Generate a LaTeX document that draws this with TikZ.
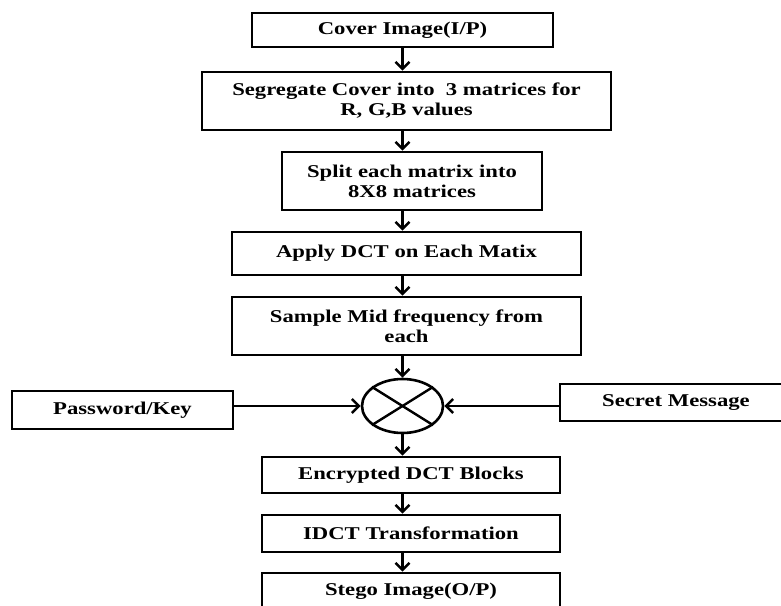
\documentclass[tikz,border=0pt]{standalone}
\usepackage{fontspec}
\setmainfont{Liberation Serif}[FakeStretch=1.26]
\usepackage{tikz}
\usetikzlibrary{shapes.geometric,arrows.meta}

\tikzset{
	stage/.style={shape=rectangle,draw=black,line width=2.8pt,inner sep=0pt,align=center,
		font=\bfseries\fontsize{18}{20}\selectfont},
	flow/.style={-{Straight Barb[length=7pt,width=14pt]},line width=2.5pt},
}

\begin{document}
\begin{tikzpicture}[x=1pt,y=-1pt]
	\clip (0,0) rectangle (781,605);
	
	\node[stage,minimum width=301pt,minimum height=34pt] (cover) at (402.5, 30)  {Cover Image(I/P)};
	\node[stage,minimum width=409pt,minimum height=58pt] (segr)  at (406.5, 101) {Segregate Cover into\ \ 3 matrices for\\R, G,B values};
	\node[stage,minimum width=260pt,minimum height=58pt] (split) at (412, 181)   {Split each matrix into\\8X8 matrices};
	\node[stage,minimum width=349pt,minimum height=43pt] (apply) at (406.5, 253.5) {Apply DCT on Each Matix};
	\node[stage,minimum width=349pt,minimum height=58pt] (sample) at (406.5, 326) {Sample Mid frequency from\\each};
	\node[shape=ellipse,draw=black,line width=2.6pt,minimum width=81pt,minimum height=54pt,inner sep=0pt] (mix) at (402.5, 406) {};
	\node[stage,minimum width=221pt,minimum height=38pt] (pwd)    at (122.5, 410) {Password/Key};
	\node[stage,minimum width=232pt,minimum height=37pt] (secret) at (676, 402.5) {Secret Message};
	\node[stage,minimum width=298pt,minimum height=36pt] (enc)   at (411, 475)   {Encrypted DCT Blocks};
	\node[stage,minimum width=298pt,minimum height=37pt] (idct)  at (411, 533.5) {IDCT Transformation};
	\node[stage,minimum width=298pt,minimum height=36pt] (stego) at (411, 591)   {Stego Image(O/P)};
	
	\draw[line width=2.4pt] (mix.148) -- (mix.-32);
	\draw[line width=2.4pt] (mix.32) -- (mix.212);
	
	\path[flow] (cover.south -| mix) edge (segr.north -| mix);
	\path[flow] (segr.south -| mix) edge (split.north -| mix);
	\path[flow] (split.south -| mix) edge (apply.north -| mix);
	\path[flow] (apply.south -| mix) edge (sample.north -| mix);
	\path[flow] (sample.south -| mix) edge (mix.north);
	\path[flow] (pwd.east |- mix.west) edge (mix.west);
	\path[flow] (secret.west |- mix.east) edge (mix.east);
	\path[flow] (mix.south) edge (enc.north -| mix);
	\path[flow] (enc.south -| mix) edge (idct.north -| mix);
	\path[flow] (idct.south -| mix) edge (stego.north -| mix);

\end{tikzpicture}
\end{document}
